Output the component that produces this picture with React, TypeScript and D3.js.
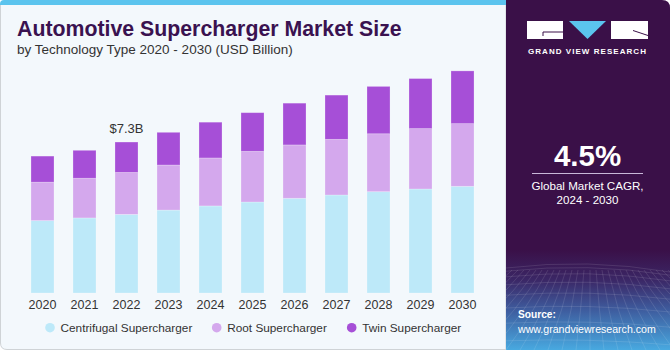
import React from 'react';
import * as d3 from 'd3';

const years = ['2020', '2021', '2022', '2023', '2024', '2025', '2026', '2027', '2028', '2029', '2030'];
const centrifugal = [3.5, 3.63, 3.8, 4.01, 4.21, 4.4, 4.58, 4.74, 4.9, 5.03, 5.16];
const root = [1.86, 1.92, 2.03, 2.18, 2.32, 2.45, 2.58, 2.69, 2.8, 2.92, 3.03];
const twin = [1.26, 1.35, 1.47, 1.58, 1.73, 1.87, 2.02, 2.14, 2.29, 2.42, 2.55];
const seriesNames = ['Centrifugal Supercharger', 'Root Supercharger', 'Twin Supercharger'];
const seriesColors = ['#bde9f9', '#d4a8ed', '#a64fd7'];
const callout = { year: '2022', label: '$7.3B' };

const W = 670;
const H = 350;
const font = '"Liberation Sans", Arial, sans-serif';

export default function App() {
  const rows = years.map((y, i) => ({ year: y, c: centrifugal[i], r: root[i], t: twin[i] }));
  const stacked = d3.stack<any>().keys(['c', 'r', 't'])(rows);

  const x = d3.scaleBand().domain(years).range([12, 493]).padding(0.452);
  const y = d3.scaleLinear().domain([0, 10]).range([293, 86.2]);

  const calloutIdx = years.indexOf(callout.year);
  const calloutTop = y(centrifugal[calloutIdx] + root[calloutIdx] + twin[calloutIdx]);

  const legendX = [50, 216.7, 351.7];

  // decorative grid in the source box
  const gridH = d3.range(0, 9).map((i) => 268 + i * i * 1.2 + i * 2);
  const gridV = d3.range(-8, 20).map((i) => i);

  return (
    <svg width={W} height={H} style={{ position: 'absolute', left: 0, top: 0 }} fontFamily={font}>
      <defs>
        <linearGradient id="srcGrad" x1="0" y1="0" x2="0" y2="1">
          <stop offset="0" stopColor="#3a1048" />
          <stop offset="0.3" stopColor="#3b2766" />
          <stop offset="0.6" stopColor="#3e5c9e" />
          <stop offset="1" stopColor="#48a9e0" />
        </linearGradient>
        <clipPath id="rightClip">
          <path d={`M506,0 H662 Q670,0 670,8 V350 H506 Z`} />
        </clipPath>
      </defs>

      {/* left panel */}
      <path d={`M0.5,4 H506 V349.5 H7 Q0.5,349.5 0.5,343 Z`} fill="#f3f8fc" stroke="#cfd3d6" strokeWidth={1} />
      <path d={`M0,5 V4 Q0,0 4,0 H506 V5 Z`} fill="#5bc4ee" />

      {/* right panel */}
      <g clipPath="url(#rightClip)">
        <rect x={506} y={0} width={164} height={350} fill="#3a1048" />
        <rect x={506} y={250} width={164} height={100} fill="url(#srcGrad)" />
        <g stroke="#ffffff" strokeOpacity={0.16} strokeWidth={0.7} fill="none">
          {gridH.map((gy, i) => (
            <path key={'h' + i} d={`M506,${gy} Q588,${gy - 10 + i} 670,${gy + 4}`} />
          ))}
          {gridV.map((i) => (
            <path key={'v' + i} d={`M${560 + i * 6},270 Q${545 + i * 9},310 ${520 + i * 14},350`} />
          ))}
        </g>
      </g>

      {/* title */}
      <text x={17} y={35.5} fontSize={21.3} fontWeight="bold" fill="#3a1250">
        Automotive Supercharger Market Size
      </text>
      <text x={17} y={54} fontSize={13.5} fill="#333333">
        by Technology Type 2020 - 2030 (USD Billion)
      </text>

      {/* bars */}
      {stacked.map((layer, li) => (
        <g key={li} fill={seriesColors[li]}>
          {layer.map((d: any, i: number) => (
            <rect
              key={i}
              x={x(years[i])}
              y={y(d[1])}
              width={x.bandwidth()}
              height={y(d[0]) - y(d[1])}
              stroke="#ffffff"
              strokeOpacity={0.3}
              strokeWidth={0.8}
            />
          ))}
        </g>
      ))}

      <text
        x={(x(callout.year) as number) + x.bandwidth() / 2}
        y={calloutTop - 9.5}
        fontSize={13}
        textAnchor="middle"
        fill="#333333"
      >
        {callout.label}
      </text>

      {/* x axis labels */}
      {years.map((yr) => (
        <text
          key={yr}
          x={(x(yr) as number) + x.bandwidth() / 2}
          y={308.5}
          fontSize={12.5}
          textAnchor="middle"
          fill="#333333"
        >
          {yr}
        </text>
      ))}

      {/* legend */}
      {seriesNames.map((name, i) => (
        <g key={name}>
          <circle cx={legendX[i]} cy={327.7} r={4.8} fill={seriesColors[i]} />
          <text x={legendX[i] + 10.5} y={332} fontSize={11.8} fill="#333333">
            {name}
          </text>
        </g>
      ))}

      {/* logo */}
      <g>
        <rect x={527} y={21} width={36} height={18} fill="#ffffff" />
        <path d="M543,32 H563" stroke="#3a1048" strokeWidth={1} />
        <path d="M543,32 V36" stroke="#3a1048" strokeWidth={1} />
        <path d="M569,21 H606 L587.5,39 Z" fill="#5bc4ee" />
        <rect x={611} y={21} width={37} height={18} fill="#ffffff" />
        <path d="M633,30.5 L648,35.5" stroke="#3a1048" strokeWidth={1} />
        <text x={587.5} y={53.5} fontSize={8} fontWeight="bold" fill="#ffffff" textAnchor="middle" letterSpacing={1.05}>
          GRAND VIEW RESEARCH
        </text>
      </g>

      {/* CAGR */}
      <text x={587.5} y={165.5} fontSize={29.5} fontWeight="bold" fill="#ffffff" textAnchor="middle">
        4.5%
      </text>
      <line x1={532} x2={643} y1={173.5} y2={173.5} stroke="#c9b8d9" strokeWidth={1} />
      <text x={587.5} y={190} fontSize={11.6} fill="#ffffff" textAnchor="middle">
        Global Market CAGR,
      </text>
      <text x={587.5} y={204} fontSize={11.6} fill="#ffffff" textAnchor="middle">
        2024 - 2030
      </text>

      {/* source */}
      <text x={518} y={318.3} fontSize={10.2} fontWeight="bold" fill="#ffffff">
        Source:
      </text>
      <text x={518} y={332.5} fontSize={10.6} fill="#ffffff">
        www.grandviewresearch.com
      </text>
    </svg>
  );
}
